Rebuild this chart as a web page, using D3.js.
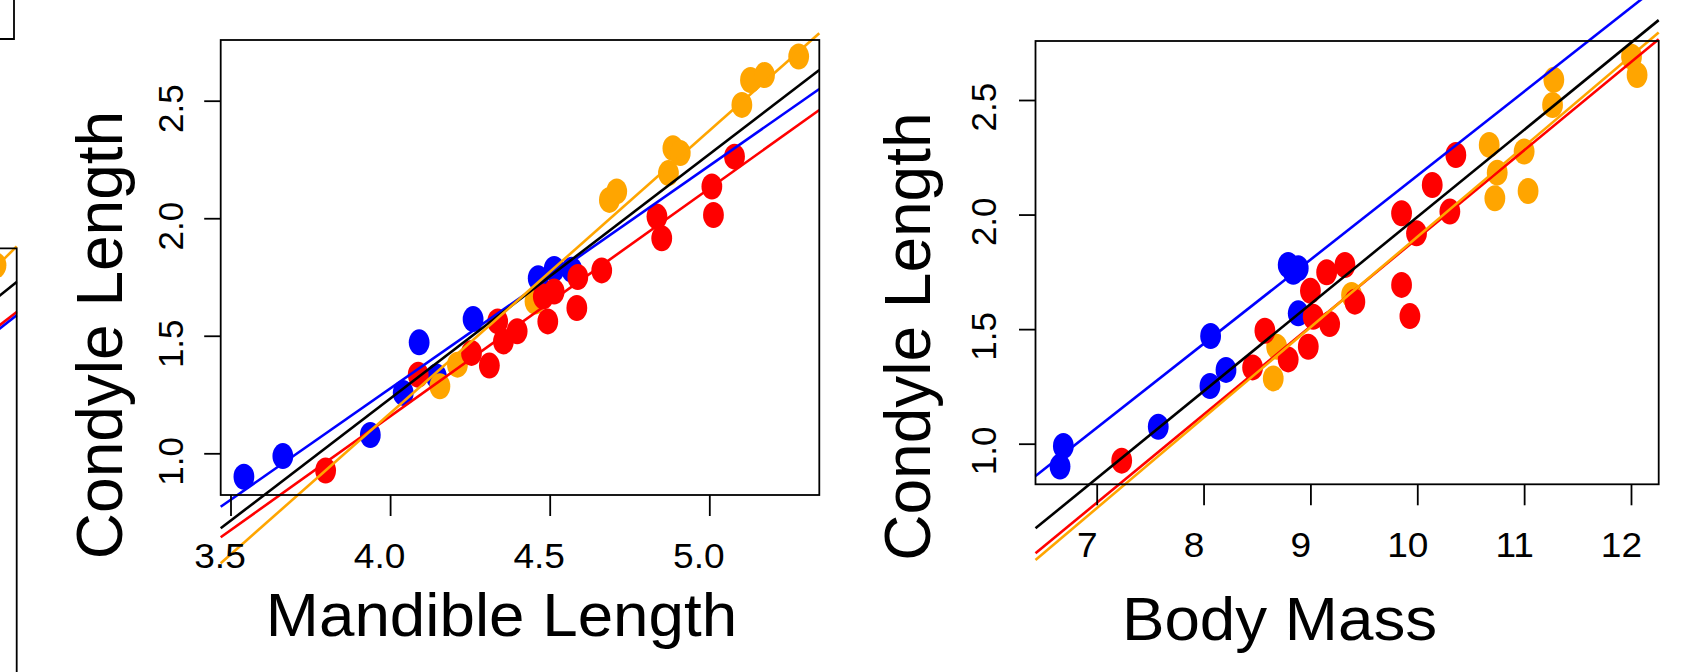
<!DOCTYPE html>
<html><head><meta charset="utf-8">
<script src="https://cdn.jsdelivr.net/npm/d3@7"></script>
<style>
html,body{margin:0;padding:0;background:#fff;overflow:hidden}
svg{display:block}
text{font-family:"Liberation Sans",Arial,Helvetica,sans-serif;fill:#000}
</style>
</head><body>
<svg id="chart" width="1691" height="672"></svg>
<script>
// ---------- data ----------
const colBlue = "#0000FF", colRed = "#FF0000", colOrange = "#FFA500", colAll = "#000000";

// Panel 1: Condyle Length vs Mandible Length
const mandBlueX   = [3.542, 3.664, 3.938, 4.041, 4.091, 4.145, 4.260, 4.464, 4.514, 4.569];
const mandBlueY   = [0.900, 0.988, 1.078, 1.257, 1.472, 1.327, 1.571, 1.745, 1.784, 1.781];
const mandOrangeX = [4.156, 4.211, 4.454, 4.687, 4.710, 4.872, 4.886, 4.909, 5.102, 5.129, 5.173, 5.280];
const mandOrangeY = [1.285, 1.377, 1.646, 2.078, 2.114, 2.192, 2.298, 2.277, 2.482, 2.588, 2.609, 2.688];
const mandRedX    = [3.798, 4.088, 4.255, 4.311, 4.337, 4.355, 4.398, 4.494, 4.480, 4.514, 4.585, 4.588, 4.663, 4.836, 4.851, 5.008, 5.013, 5.079];
const mandRedY    = [0.927, 1.334, 1.427, 1.373, 1.561, 1.476, 1.519, 1.561, 1.667, 1.688, 1.618, 1.750, 1.778, 2.007, 1.915, 2.135, 2.014, 2.262];
// fitted lines (intercept, slope): blue, black (all), red, orange
const mandLineIntercepts = [-2.5147, -2.9257, -2.7201, -3.6391];
const mandLineSlopes     = [ 0.9476,  1.0396,  0.9693,  1.2023];
const mandXTicks = [3.5, 4.0, 4.5, 5.0];

// Panel 2: Condyle Length vs Body Mass
const massBlueX   = [6.688, 6.657, 7.576, 8.066, 8.060, 8.210, 8.792, 8.886, 8.886, 8.840];
const massBlueY   = [0.990, 0.900, 1.074, 1.470, 1.252, 1.322, 1.780, 1.766, 1.569, 1.750];
const massOrangeX = [8.684, 8.652, 9.385, 10.673, 10.748, 10.726, 11.000, 11.037, 11.278, 11.266, 12.005, 12.057];
const massOrangeY = [1.423, 1.285, 1.649, 2.304, 2.183, 2.071, 2.275, 2.103, 2.588, 2.478, 2.689, 2.609];
const massRedX    = [7.234, 8.459, 8.574, 8.792, 9.000, 8.980, 9.026, 9.152, 9.180, 9.323, 9.416, 9.853, 9.931, 9.853, 9.993, 10.140, 10.305, 10.361];
const massRedY    = [0.926, 1.333, 1.493, 1.368, 1.667, 1.423, 1.554, 1.748, 1.522, 1.780, 1.620, 1.693, 1.557, 2.006, 1.918, 2.129, 2.013, 2.260];
const massLineIntercepts = [-1.5002, -1.8136, -1.9510, -2.0445];
const massLineSlopes     = [ 0.3670,  0.3803,  0.3847,  0.3947];
const massXTicks = [7, 8, 9, 10, 11, 12];

const condyleTicks = [1.0, 1.5, 2.0, 2.5];
const lineColors = [colBlue, colAll, colRed, colOrange];

// Partial (cut-off) panel at the left edge
const partOrangeX = [9.655];
const partOrangeY = [9.717];
const partLineEnds   = [10.033, 9.438, 8.938, 8.883]; // value at the panel's right edge (x = 10)
const partLineSlopes = [1.00, 0.80, 0.78, 0.78];
const partLineColors = [colOrange, colAll, colRed, colBlue];

// ---------- drawing ----------
const svg = d3.select("#chart");
svg.append("rect").attr("width",1691).attr("height",672).attr("fill","#fff");
const LW = 2.6;

function drawPanel(p) {
  const x = d3.scaleLinear().domain(p.xDomain).range([p.left, p.right]);
  const y = d3.scaleLinear().domain(p.yDomain).range([p.bottom, p.top]);
  const g = svg.append("g");

  // points: blue, orange, red
  p.series.forEach(s => {
    g.append("g").selectAll("ellipse").data(d3.zip(s.xs, s.ys)).join("ellipse")
      .attr("cx", d => x(d[0])).attr("cy", d => y(d[1]))
      .attr("rx", 10.4).attr("ry", 13).attr("fill", s.color);
  });

  // regression lines spanning the plot region x-range (not clipped vertically)
  const [x0, x1] = p.xDomain;
  g.append("g").selectAll("line").data(d3.range(p.intercepts.length)).join("line")
    .attr("x1", x(x0)).attr("x2", x(x1))
    .attr("y1", i => y(p.intercepts[i] + p.slopes[i] * x0))
    .attr("y2", i => y(p.intercepts[i] + p.slopes[i] * x1))
    .attr("stroke", i => p.colors[i]).attr("stroke-width", LW);

  // box
  g.append("rect").attr("x", p.left).attr("y", p.top)
    .attr("width", p.right - p.left).attr("height", p.bottom - p.top)
    .attr("fill", "none").attr("stroke", "#000").attr("stroke-width", 1.8);

  // x axis
  const xa = g.append("g").attr("transform", `translate(0,${p.bottom})`)
    .call(d3.axisBottom(x).tickValues(p.xTicks).tickSize(21).tickFormat(p.xFormat));
  xa.select(".domain").remove();
  xa.selectAll(".tick line").attr("stroke", "#000").attr("stroke-width", 1.8);
  xa.selectAll(".tick text").attr("x", 0).attr("y", 0).attr("dy", 0)
    .attr("transform", `translate(${p.xLabShift},${p.xLabBase}) scale(1.06,1)`)
    .style("font-size", "35px").attr("fill", "#000");

  // y axis
  const ya = g.append("g").attr("transform", `translate(${p.left},0)`)
    .call(d3.axisLeft(y).tickValues(condyleTicks).tickSize(16.5).tickFormat(d3.format(".1f")));
  ya.select(".domain").remove();
  ya.selectAll(".tick line").attr("stroke", "#000").attr("stroke-width", 1.8);
  ya.selectAll(".tick text").attr("x", 0).attr("y", 0).attr("dy", 0)
    .attr("text-anchor", "middle")
    .attr("transform", `translate(${p.yLabOff},${p.yLabShift}) rotate(-90)`)
    .style("font-size", "35px").attr("fill", "#000");

  // axis titles
  g.append("text").attr("text-anchor", "middle")
    .attr("transform", `translate(${p.xTitleX},${p.xTitleY}) scale(1.045,1)`)
    .style("font-size", "61px").text(p.xTitle);
  g.append("text").attr("text-anchor", "middle")
    .attr("transform", `translate(${p.yTitleX},${p.yTitleY}) rotate(-90)`)
    .style("font-size", "64px").text("Condyle Length");
}

drawPanel({
  xDomain: [3.4693, 5.3446], yDomain: [0.8226, 2.7582],
  left: 220.7, right: 819.3, top: 40, bottom: 495,
  series: [
    {xs: mandBlueX, ys: mandBlueY, color: colBlue},
    {xs: mandOrangeX, ys: mandOrangeY, color: colOrange},
    {xs: mandRedX, ys: mandRedY, color: colRed}
  ],
  intercepts: mandLineIntercepts, slopes: mandLineSlopes, colors: lineColors,
  xTicks: mandXTicks, xFormat: d3.format(".1f"),
  xLabShift: -11, xLabBase: 73.3, yLabOff: -37.4, yLabShift: 7.5,
  xTitle: "Mandible Length", xTitleX: 501.5, xTitleY: 636,
  yTitleX: 121.7, yTitleY: 335
});

drawPanel({
  xDomain: [6.4273, 12.2593], yDomain: [0.8228, 2.7575],
  left: 1035.5, right: 1658.7, top: 41, bottom: 484.3,
  series: [
    {xs: massBlueX, ys: massBlueY, color: colBlue},
    {xs: massOrangeX, ys: massOrangeY, color: colOrange},
    {xs: massRedX, ys: massRedY, color: colRed}
  ],
  intercepts: massLineIntercepts, slopes: massLineSlopes, colors: lineColors,
  xTicks: massXTicks, xFormat: d3.format("d"),
  xLabShift: -10, xLabBase: 72.4, yLabOff: -40, yLabShift: 6.7,
  xTitle: "Body Mass", xTitleX: 1279.5, xTitleY: 640,
  yTitleX: 930, yTitleY: 336.6
});

// ---------- cut-off pieces at the left edge ----------
(function partial() {
  const px = d3.scaleLinear().domain([9.5, 10]).range([-13.3, 16.7]);
  const py = d3.scaleLinear().domain([0, 10]).range([848, 248.3]);
  const g = svg.append("g");
  g.selectAll("ellipse").data(d3.zip(partOrangeX, partOrangeY)).join("ellipse")
    .attr("cx", d => px(d[0])).attr("cy", d => py(d[1]))
    .attr("rx", 10.4).attr("ry", 13).attr("fill", colOrange);
  const xa = 9.5, xb = 10;
  g.selectAll("line").data(d3.range(partLineSlopes.length)).join("line")
    .attr("x1", px(xa)).attr("x2", px(xb))
    .attr("y1", i => py(partLineEnds[i] - partLineSlopes[i] * (xb - xa)))
    .attr("y2", i => py(partLineEnds[i]))
    .attr("stroke", i => partLineColors[i]).attr("stroke-width", LW);
  // frame of the cut-off panel
  g.append("path").attr("d", `M${px(9.0)},${py(10)}H${px(10)}V${py(-1)}`)
    .attr("fill", "none").attr("stroke", "#000").attr("stroke-width", 1.8);
  // frame corner at the top-left
  g.append("path").attr("d", "M-5,39H14V-5")
    .attr("fill", "none").attr("stroke", "#000").attr("stroke-width", 1.8);
})();
</script>
</body></html>
